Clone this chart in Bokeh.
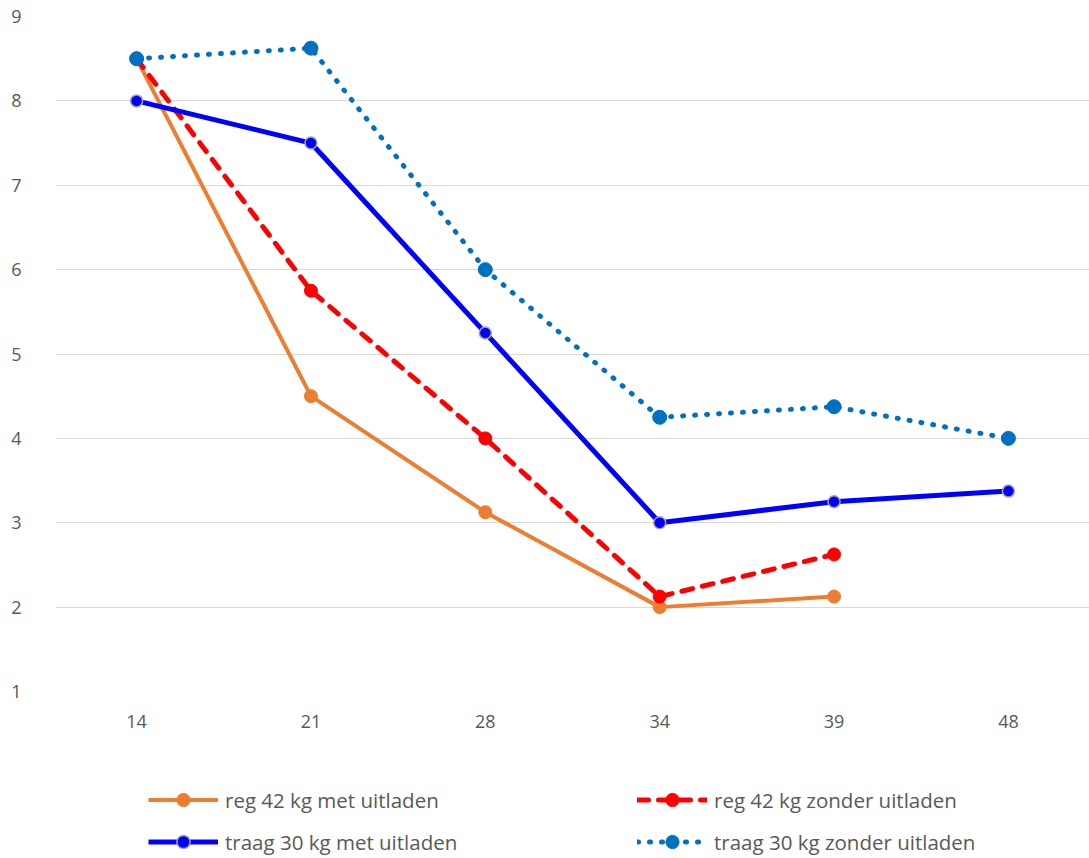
from bokeh.plotting import figure
from bokeh.layouts import column
from bokeh.models import FactorRange, Range1d, Legend, LegendItem, FixedTicker
from bokeh.embed import file_html
from bokeh.resources import INLINE

categories = ["14", "21", "28", "34", "39", "48"]
reg_met = [8.5, 4.5, 3.125, 2.0, 2.125]
reg_zonder = [8.5, 5.75, 4.0, 2.125, 2.625]
traag_met = [8.0, 7.5, 5.25, 3.0, 3.25, 3.375]
traag_zonder = [8.5, 8.625, 6.0, 4.25, 4.375, 4.0]
y_ticks = [1, 2, 3, 4, 5, 6, 7, 8, 9]
labels = ["reg 42 kg met uitladen", "reg 42 kg zonder uitladen",
          "traag 30 kg met uitladen", "traag 30 kg zonder uitladen"]

STYLES = [
    dict(line=dict(line_color="#ED7D31", line_width=4, line_join="round"),
         mark=dict(size=13, fill_color="#ED7D31", line_color="#ED7D31")),
    dict(line=dict(line_color="#FF0000", line_width=5, line_dash="11 10",
                   line_cap="round", line_join="round"),
         mark=dict(size=13, fill_color="#FF0000", line_color="#FF0000")),
    dict(line=dict(line_color="#0000FF", line_width=5, line_join="round"),
         mark=dict(size=12, fill_color="#0000FF", line_color="#A5A5A5", line_width=1.5)),
    dict(line=dict(line_color="#0070C0", line_width=5, line_dash="1 11",
                   line_cap="round", line_join="round"),
         mark=dict(size=14, fill_color="#0070C0", line_color="#0070C0")),
]

p = figure(width=1089, height=760, output_backend="svg", toolbar_location=None,
           x_range=FactorRange(factors=categories, range_padding=-0.035,
                               range_padding_units="absolute"),
           y_range=Range1d(1, 9),
           min_border_left=55, min_border_right=0, min_border_top=16, min_border_bottom=69)
p.outline_line_color = None
p.background_fill_color = "white"
p.border_fill_color = "white"

p.ygrid.grid_line_color = "#D9D9D9"
p.ygrid.grid_line_width = 1
p.xgrid.grid_line_color = None
p.yaxis.ticker = FixedTicker(ticks=y_ticks)
for ax in (p.xaxis[0], p.yaxis[0]):
    ax.axis_line_color = None
    ax.major_tick_line_color = None
    ax.minor_tick_line_color = None
    ax.major_label_text_color = "#595959"
    ax.major_label_text_font = "Open Sans"
    ax.major_label_text_font_size = "18px"
p.yaxis.major_label_standoff = 28
p.xaxis.major_label_standoff = 17

series = [(categories[:5], reg_met), (categories[:5], reg_zonder),
          (categories, traag_met), (categories, traag_zonder)]
for (xs, ys), st in zip(series, STYLES):
    p.line(xs, ys, **st["line"])
    p.scatter(xs, ys, **st["mark"])

# legend strip below the chart (its frame is aligned with the chart frame)
q = figure(width=1089, height=98, output_backend="svg", toolbar_location=None,
           x_range=Range1d(0, 1), y_range=Range1d(0, 1),
           min_border=0, min_border_left=0, min_border_right=0,
           min_border_top=0, min_border_bottom=0)
q.axis.visible = False
q.grid.visible = False
q.outline_line_color = None
q.border_fill_color = "white"

items = []
for lab, st in zip(labels, STYLES):
    # off-range proxy glyphs: only used for the legend swatches
    r1 = q.line([5, 6], [5, 5], **st["line"])
    r2 = q.scatter([5], [5], **st["mark"])
    items.append(LegendItem(label=lab, renderers=[r1, r2]))

def mk_legend(its, loc):
    lg = Legend(items=its, location=loc, orientation="vertical",
                glyph_width=70, glyph_height=33, label_height=20, spacing=9,
                label_standoff=7, padding=0, margin=0,
                border_line_alpha=0, background_fill_alpha=0,
                label_text_font="Open Sans", label_text_font_size="20.5px",
                label_text_color="#595959")
    q.add_layout(lg, "center")

mk_legend([items[0], items[2]], (93, 0))
mk_legend([items[1], items[3]], (582, 0))

layout = column(p, q, spacing=0)
open("out.html", "w").write(file_html(layout, INLINE))
